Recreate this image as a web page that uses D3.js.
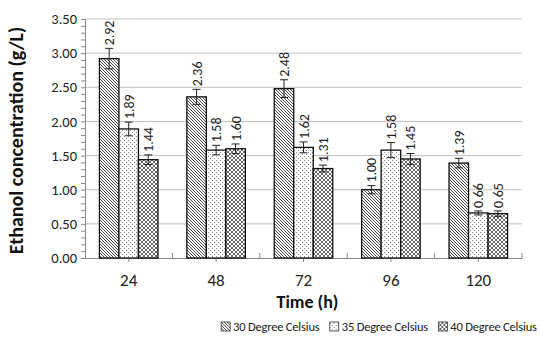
<!DOCTYPE html>
<html>
<head>
<meta charset="utf-8">
<script src="https://cdn.jsdelivr.net/npm/d3@7"></script>
<style>
  body { margin: 0; background: #fff; }
  svg { font-family: Carlito, Lato, sans-serif; }
</style>
</head>
<body>
<div id="chart"></div>
<script>
// data

const categories = ["24", "48", "72", "96", "120"];
const seriesNames = ["30 Degree Celsius", "35 Degree Celsius", "40 Degree Celsius"];

const values30 = [2.92, 2.36, 2.48, 1.00, 1.39];
const values35 = [1.89, 1.58, 1.62, 1.58, 0.66];
const values40 = [1.44, 1.60, 1.31, 1.45, 0.65];

const err30 = [0.15, 0.11, 0.13, 0.06, 0.07];
const err35 = [0.10, 0.07, 0.08, 0.11, 0.03];
const err40 = [0.07, 0.07, 0.05, 0.08, 0.04];

const yTicks = [0, 0.5, 1, 1.5, 2, 2.5, 3, 3.5];

// constants

const width = 540;
const height = 337;
const margin = {top: 19, bottom: 79, left: 85, right: 18};

const series = [
  {name: seriesNames[0], values: values30, errs: err30, fill: "url(#hatch30)"},
  {name: seriesNames[1], values: values35, errs: err35, fill: "url(#dots35)"},
  {name: seriesNames[2], values: values40, errs: err40, fill: "url(#cross40)"}
];

const bars = [];
series.forEach(s => {
  categories.forEach((c, i) => {
    bars.push({cat: c, series: s.name, value: s.values[i], err: s.errs[i], fill: s.fill});
  });
});

// svg

const svg = d3.select("#chart")
  .append("svg")
  .attr("width", width)
  .attr("height", height);

// fill patterns

const defs = svg.append("defs");

defs.append("pattern")
  .attr("id", "hatch30")
  .attr("patternUnits", "userSpaceOnUse")
  .attr("width", 3).attr("height", 3)
  .call(p => {
    p.append("rect").attr("width", 3).attr("height", 3).attr("fill", "#fff");
    p.append("path")
      .attr("d", "M-1,-1 L4,4 M-1,2 L1,4 M2,-1 L4,1")
      .attr("stroke", "#333").attr("stroke-width", 0.9);
  });

defs.append("pattern")
  .attr("id", "dots35")
  .attr("patternUnits", "userSpaceOnUse")
  .attr("width", 4).attr("height", 4)
  .call(p => {
    p.append("rect").attr("width", 4).attr("height", 4).attr("fill", "#fff");
    p.append("rect").attr("x", 0).attr("y", 0).attr("width", 1).attr("height", 1).attr("fill", "#888");
    p.append("rect").attr("x", 2).attr("y", 2).attr("width", 1).attr("height", 1).attr("fill", "#888");
  });

defs.append("pattern")
  .attr("id", "cross40")
  .attr("patternUnits", "userSpaceOnUse")
  .attr("width", 4).attr("height", 4)
  .call(p => {
    p.append("rect").attr("width", 4).attr("height", 4).attr("fill", "#fff");
    p.append("path")
      .attr("d", "M0,0 L4,4 M4,0 L0,4")
      .attr("stroke", "#444").attr("stroke-width", 0.8);
  });

// scales

const xScale = d3.scaleBand()
  .domain(categories)
  .range([margin.left, width - margin.right])
  .padding(0);

const xSub = d3.scaleBand()
  .domain(seriesNames)
  .range([0, xScale.bandwidth()])
  .paddingInner(0)
  .paddingOuter(0.74);

const yScale = d3.scaleLinear()
  .domain([0, 3.5])
  .range([height - margin.bottom, margin.top]);

// gridlines

svg.append("g")
  .attr("class", "grid")
  .selectAll("line")
  .data(yTicks.slice(1))
  .join("line")
  .attr("x1", margin.left)
  .attr("x2", width - margin.right)
  .attr("y1", d => yScale(d))
  .attr("y2", d => yScale(d))
  .attr("stroke", "#bfbfbf")
  .attr("stroke-width", 1);

// y axis with minor ticks

const yAxis = d3.axisLeft(yScale)
  .tickValues(d3.range(0, 3.501, 0.1))
  .tickSize(4)
  .tickFormat("");

const yAxisGroup = svg.append("g")
  .attr("class", "yAxis")
  .attr("transform", `translate(${margin.left}, 0)`)
  .call(yAxis);

yAxisGroup.select(".domain").attr("stroke", "#888");
yAxisGroup.selectAll(".tick line").attr("stroke", "#888");

svg.append("g")
  .selectAll("text")
  .data(yTicks)
  .join("text")
  .attr("x", margin.left - 8)
  .attr("y", d => yScale(d))
  .attr("dy", "0.35em")
  .attr("text-anchor", "end")
  .attr("font-size", 14.5)
  .attr("fill", "#222")
  .text(d => d.toFixed(2));

// x axis

const xAxisGroup = svg.append("g")
  .attr("class", "xAxis")
  .attr("transform", `translate(0, ${height - margin.bottom})`)
  .call(d3.axisBottom(xScale).tickSize(4).tickSizeOuter(0))
  .call(g => g.select(".domain").attr("stroke", "#888"))
  .call(g => g.selectAll(".tick line").attr("stroke", "#888"))
  .call(g => g.selectAll(".tick text")
    .attr("font-size", 17)
    .attr("fill", "#222")
    .attr("dy", "1.25em")
    .attr("font-family", "Carlito, Lato, sans-serif"));

// boundary ticks between categories
xAxisGroup.selectAll(".sep")
  .data(categories)
  .join("line")
  .attr("class", "sep")
  .attr("x1", d => xScale(d) + xScale.bandwidth())
  .attr("x2", d => xScale(d) + xScale.bandwidth())
  .attr("y1", 0)
  .attr("y2", -5)
  .attr("stroke", "#888");

// bars

svg.append("g")
  .selectAll("rect")
  .data(bars)
  .join("rect")
  .attr("x", d => xScale(d.cat) + xSub(d.series))
  .attr("width", xSub.bandwidth())
  .attr("y", d => yScale(d.value))
  .attr("height", d => yScale(0) - yScale(d.value))
  .attr("fill", d => d.fill)
  .attr("stroke", "#111")
  .attr("stroke-width", 1.3);

// error bars

const errG = svg.append("g").attr("stroke", "#222").attr("stroke-width", 1);
const cx = d => xScale(d.cat) + xSub(d.series) + xSub.bandwidth() / 2;

errG.selectAll(".stem")
  .data(bars)
  .join("line")
  .attr("x1", cx).attr("x2", cx)
  .attr("y1", d => yScale(d.value + d.err))
  .attr("y2", d => yScale(d.value - d.err));

errG.selectAll(".capTop")
  .data(bars)
  .join("line")
  .attr("x1", d => cx(d) - 4).attr("x2", d => cx(d) + 4)
  .attr("y1", d => yScale(d.value + d.err))
  .attr("y2", d => yScale(d.value + d.err));

errG.selectAll(".capBottom")
  .data(bars)
  .join("line")
  .attr("x1", d => cx(d) - 4).attr("x2", d => cx(d) + 4)
  .attr("y1", d => yScale(d.value - d.err))
  .attr("y2", d => yScale(d.value - d.err));

// value labels, rotated

svg.append("g")
  .selectAll("text")
  .data(bars)
  .join("text")
  .attr("transform", d => `translate(${cx(d) + 5}, ${yScale(d.value + d.err) - 3}) rotate(-90)`)
  .attr("font-size", 14)
  .attr("fill", "#222")
  .text(d => d.value.toFixed(2));

// axis titles

svg.append("text")
  .attr("transform", `translate(23, ${(margin.top + height - margin.bottom) / 2 + 2}) rotate(-90)`)
  .attr("text-anchor", "middle")
  .attr("font-size", 20)
  .attr("font-weight", "bold")
  .attr("fill", "#111")
  .text("Ethanol concentration (g/L)");

svg.append("text")
  .attr("x", (margin.left + width - margin.right) / 2 + 4)
  .attr("y", 308)
  .attr("text-anchor", "middle")
  .attr("font-size", 18)
  .attr("font-weight", "bold")
  .attr("fill", "#111")
  .text("Time (h)");

// legend

const legend = svg.append("g").attr("class", "legend");
const legendItems = legend.selectAll("g")
  .data(series)
  .join("g");

legendItems.append("rect")
  .attr("width", 9).attr("height", 9)
  .attr("y", -9)
  .attr("fill", d => d.fill)
  .attr("stroke", "#333")
  .attr("stroke-width", 0.8);

legendItems.append("text")
  .attr("x", 12)
  .attr("font-size", 12.5)
  .attr("letter-spacing", -0.2)
  .attr("fill", "#222")
  .text(d => d.name);

let lx = 0;
legendItems.each(function () {
  const w = this.getBBox().width;
  d3.select(this).attr("transform", `translate(${lx}, 0)`);
  lx += w + 10;
});
legend.attr("transform", `translate(${width - 3 - (lx - 10)}, 331)`);
</script>
</body>
</html>
